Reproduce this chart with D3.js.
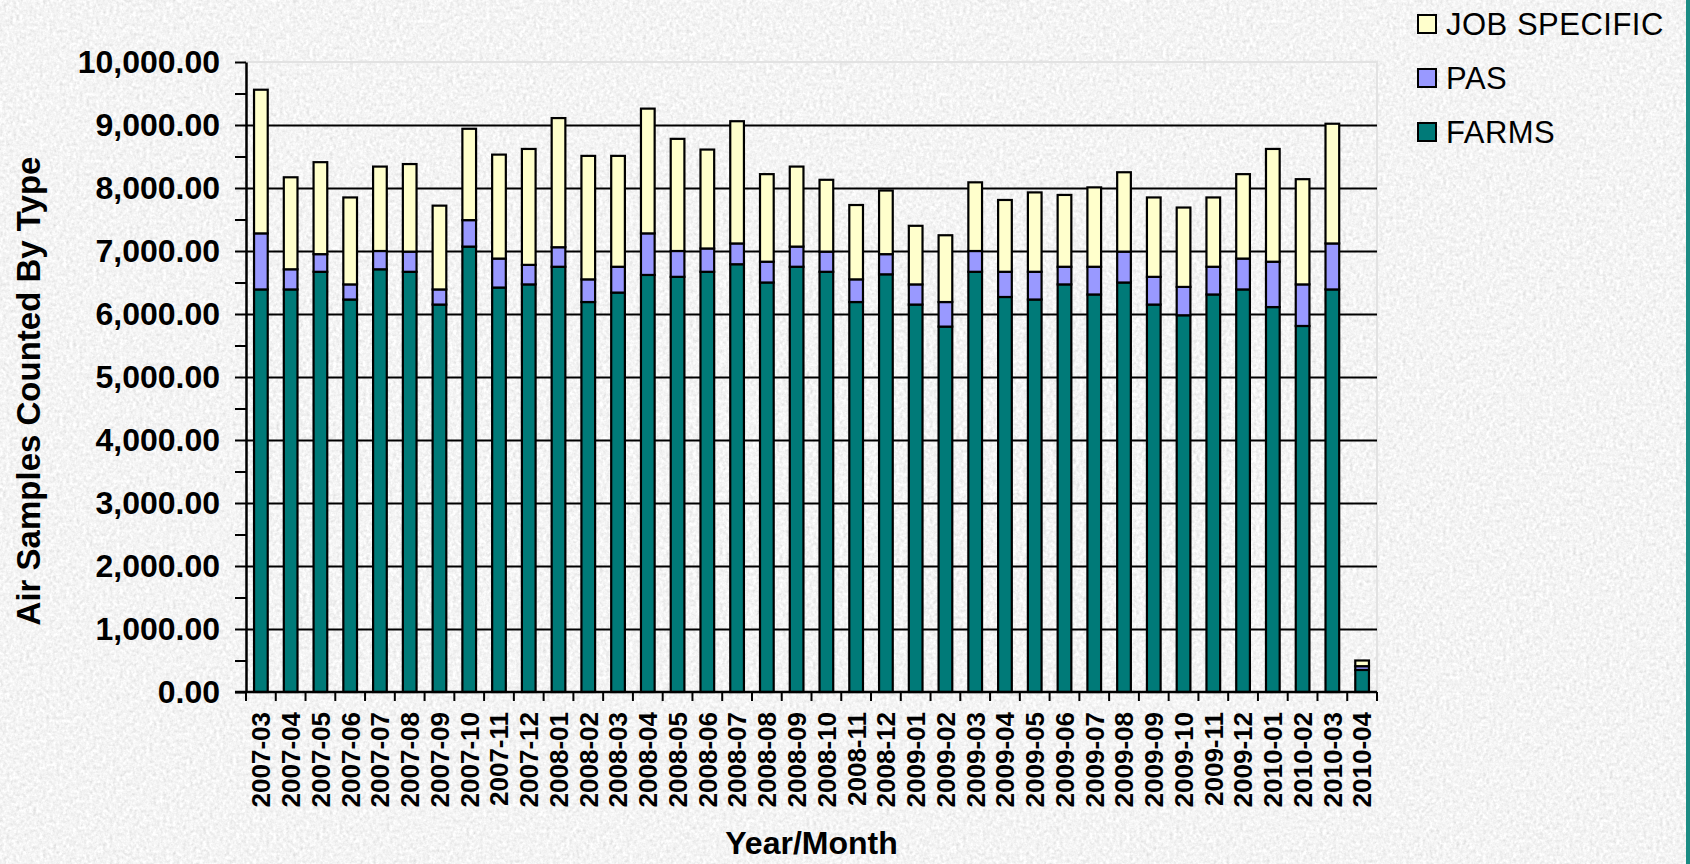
<!DOCTYPE html>
<html>
<head>
<meta charset="utf-8">
<script src="https://cdn.jsdelivr.net/npm/d3@7"></script>
<style>
  body { margin: 0; background: #e4e4e4; }
  svg { display: block; font-family: "Liberation Sans", Arial, sans-serif; }
</style>
</head>
<body>
<svg width="1690" height="864"></svg>
<script>
// categories (Year/Month)
const months = [
  "2007-03","2007-04","2007-05","2007-06","2007-07","2007-08","2007-09","2007-10","2007-11","2007-12",
  "2008-01","2008-02","2008-03","2008-04","2008-05","2008-06","2008-07","2008-08","2008-09","2008-10",
  "2008-11","2008-12","2009-01","2009-02","2009-03","2009-04","2009-05","2009-06","2009-07","2009-08",
  "2009-09","2009-10","2009-11","2009-12","2010-01","2010-02","2010-03","2010-04"
];

// series values
const farms = [
  6390, 6390, 6670, 6230, 6710, 6670, 6150, 7070, 6420, 6470,
  6750, 6190, 6340, 6620, 6590, 6670, 6790, 6500, 6750, 6670,
  6190, 6630, 6150, 5800, 6670, 6270, 6230, 6470, 6310, 6500,
  6150, 5980, 6310, 6390, 6110, 5810, 6390, 350
];
const pas = [
  890, 320, 280, 240, 290, 320, 240, 420, 460, 310,
  310, 360, 410, 660, 410, 370, 330, 330, 320, 320,
  360, 320, 320, 390, 330, 400, 440, 280, 440, 490,
  440, 450, 440, 490, 720, 660, 730, 60
];
const jobSpecific = [
  2280, 1460, 1460, 1380, 1340, 1390, 1330, 1450, 1650, 1840,
  2050, 1960, 1760, 1980, 1780, 1570, 1940, 1390, 1270, 1140,
  1180, 1010, 930, 1060, 1090, 1140, 1260, 1140, 1260, 1260,
  1260, 1260, 1100, 1340, 1790, 1670, 1900, 90
];

const seriesNames = ["FARMS", "PAS", "JOB SPECIFIC"];
const seriesColors = ["#007a78", "#9999ff", "#ffffcc"];
const legendOrder = ["JOB SPECIFIC", "PAS", "FARMS"];

// y tick labels
const yTicks = [0, 1000, 2000, 3000, 4000, 5000, 6000, 7000, 8000, 9000, 10000];

const W = 1690, H = 864;
const plotLeft = 246, plotRight = 1377, plotTop = 62, plotBottom = 692;

const svg = d3.select("svg");

// marbled grey background
const defs = svg.append("defs");
const flt = defs.append("filter").attr("id", "marble")
  .attr("x", 0).attr("y", 0).attr("width", "100%").attr("height", "100%");
flt.append("feTurbulence")
  .attr("type", "fractalNoise").attr("baseFrequency", 0.3)
  .attr("numOctaves", 4).attr("seed", 5);
flt.append("feColorMatrix").attr("type", "matrix")
  .attr("values", "0.33 0.33 0.33 0 0  0.33 0.33 0.33 0 0  0.33 0.33 0.33 0 0  0 0 0 0 1");
const ct = flt.append("feComponentTransfer");
["feFuncR", "feFuncG", "feFuncB"].forEach(f =>
  ct.append(f).attr("type", "linear").attr("slope", 0.7).attr("intercept", 0.56));

svg.append("rect").attr("width", W).attr("height", H).attr("filter", "url(#marble)");
svg.append("rect").attr("x", W - 4).attr("width", 4).attr("height", H).attr("fill", "#1b8c84");

// table for the stack
const table = months.map((m, i) => ({
  month: m, "FARMS": farms[i], "PAS": pas[i], "JOB SPECIFIC": jobSpecific[i]
}));
const stacked = d3.stack().keys(seriesNames)(table);

const x = d3.scaleBand()
  .domain(months)
  .range([plotLeft, plotRight])
  .paddingInner(0.54)
  .paddingOuter(0.27);

const xSlot = d3.scaleBand().domain(months).range([plotLeft, plotRight]);

const y = d3.scaleLinear()
  .domain([0, 10000])
  .range([plotBottom, plotTop]);

const color = d3.scaleOrdinal().domain(seriesNames).range(seriesColors);

// plot area border (light)
svg.append("rect")
  .attr("x", plotLeft).attr("y", plotTop)
  .attr("width", plotRight - plotLeft).attr("height", plotBottom - plotTop)
  .attr("fill", "none").attr("stroke", "#e2e2e2").attr("stroke-width", 2);

// gridlines
svg.append("g")
  .attr("transform", "translate(" + plotLeft + ",0)")
  .call(d3.axisLeft(y).tickValues(yTicks.filter(d => d > 0 && d < 10000)).tickSize(-(plotRight - plotLeft)).tickFormat(""))
  .call(g => g.select(".domain").remove())
  .call(g => g.selectAll("line").attr("stroke", "#000").attr("stroke-width", 2));

// bars
svg.append("g")
  .selectAll("g")
  .data(stacked)
  .enter()
  .append("g")
  .attr("fill", d => color(d.key))
  .selectAll("rect")
  .data(d => d)
  .enter()
  .append("rect")
  .attr("x", d => x(d.data.month))
  .attr("y", d => y(d[1]))
  .attr("width", x.bandwidth())
  .attr("height", d => y(d[0]) - y(d[1]))
  .attr("stroke", "#000")
  .attr("stroke-width", 2.2);

// y axis: major + minor ticks
const yAxis = d3.axisLeft(y)
  .tickValues(yTicks)
  .tickFormat(d3.format(",.2f"))
  .tickSize(11)
  .tickSizeOuter(0)
  .tickPadding(15);

svg.append("g")
  .attr("transform", "translate(" + plotLeft + ",0)")
  .call(d3.axisLeft(y).tickValues(yTicks.slice(1).map(d => d - 500)).tickSize(11).tickFormat(""))
  .call(g => g.select(".domain").remove())
  .call(g => g.selectAll("line").attr("stroke", "#000").attr("stroke-width", 2));

svg.append("g")
  .attr("transform", "translate(" + plotLeft + ",0)")
  .call(yAxis)
  .call(g => g.select(".domain").attr("stroke", "#000").attr("stroke-width", 2.5))
  .call(g => g.selectAll("line").attr("stroke", "#000").attr("stroke-width", 2))
  .call(g => g.selectAll("text")
    .attr("fill", "#000")
    .style("font-size", "32px")
    .style("font-weight", "bold")
    .style("font-family", "'Liberation Sans', Arial, sans-serif"));

// x axis line and ticks between categories
svg.append("line")
  .attr("x1", plotLeft - 11).attr("x2", plotRight)
  .attr("y1", plotBottom).attr("y2", plotBottom)
  .attr("stroke", "#000").attr("stroke-width", 2.5);

svg.append("g")
  .selectAll("line")
  .data(months.concat(["end"]))
  .enter()
  .append("line")
  .attr("x1", d => d === "end" ? plotRight : xSlot(d))
  .attr("x2", d => d === "end" ? plotRight : xSlot(d))
  .attr("y1", plotBottom)
  .attr("y2", plotBottom + 9)
  .attr("stroke", "#000")
  .attr("stroke-width", 2);

// x tick labels
svg.append("g")
  .attr("transform", "translate(0," + plotBottom + ")")
  .call(d3.axisBottom(xSlot).tickSize(0).tickSizeOuter(0))
  .call(g => g.select(".domain").remove())
  .call(g => g.selectAll("text")
    .attr("transform", "rotate(-90)")
    .attr("x", -20)
    .attr("y", 0)
    .attr("dy", "0.36em")
    .attr("text-anchor", "end")
    .attr("fill", "#000")
    .style("font-size", "26px")
    .style("font-weight", "bold")
    .style("font-family", "'Liberation Sans', Arial, sans-serif"));

// axis titles
svg.append("text")
  .attr("x", (plotLeft + plotRight) / 2)
  .attr("y", 854)
  .attr("text-anchor", "middle")
  .style("font-size", "32px")
  .style("font-weight", "bold")
  .text("Year/Month");

svg.append("text")
  .attr("transform", "translate(40,391) rotate(-90)")
  .attr("text-anchor", "middle")
  .style("font-size", "33px")
  .style("font-weight", "bold")
  .text("Air Samples Counted By Type");

// legend
const legend = svg.append("g")
  .selectAll("g")
  .data(legendOrder)
  .enter()
  .append("g")
  .attr("transform", (d, i) => "translate(1418," + (24 + i * 54) + ")");

legend.append("rect")
  .attr("x", 0).attr("y", -9)
  .attr("width", 18).attr("height", 18)
  .attr("fill", d => color(d))
  .attr("stroke", "#000")
  .attr("stroke-width", 2);

legend.append("text")
  .attr("x", 28)
  .attr("dy", "0.36em")
  .style("font-size", "31px")
  .style("letter-spacing", "0.5px")
  .text(d => d);
</script>
</body>
</html>
